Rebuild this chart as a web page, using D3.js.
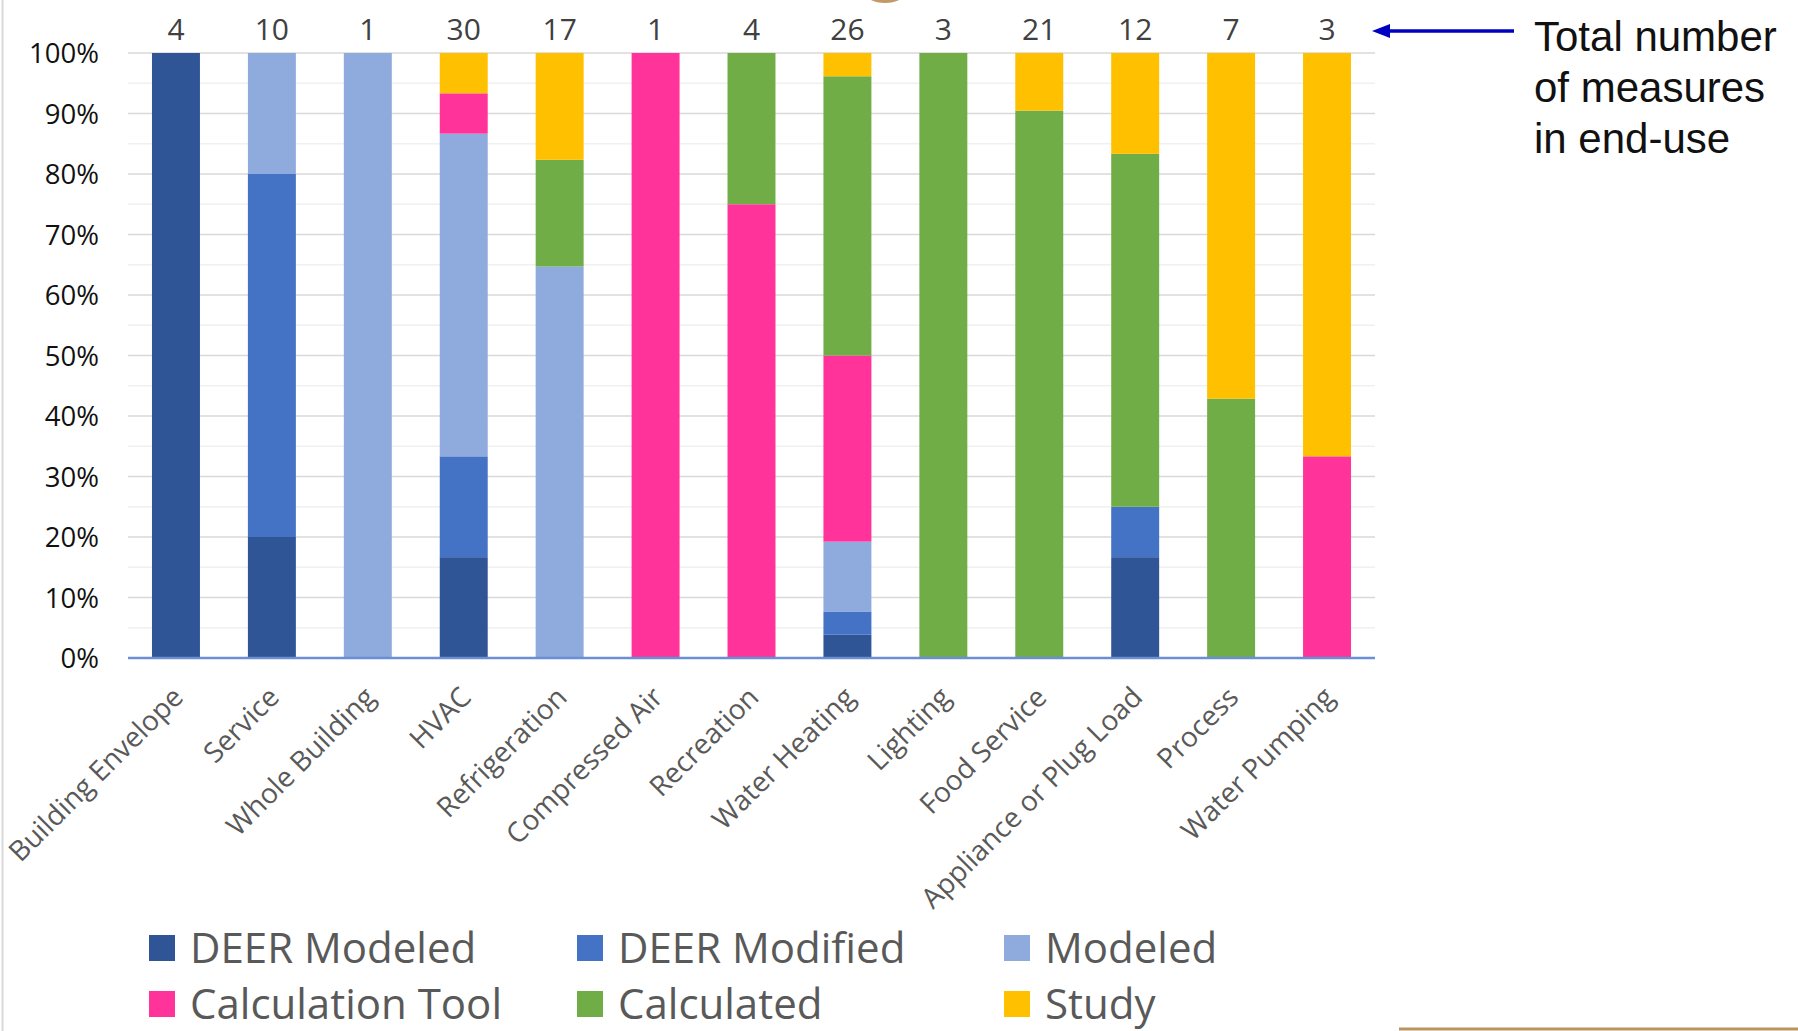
<!DOCTYPE html>
<html>
<head>
<meta charset="utf-8">
<script src="https://cdn.jsdelivr.net/npm/d3@7"></script>
<style>
  html, body { margin: 0; padding: 0; background: #fff; }
  svg { display: block; }
  text { font-family: "Open Sans", "Noto Sans", sans-serif; }
</style>
</head>
<body>
<div id="chart"></div>
<script>
// measures per end-use, by method
const categories = ["Building Envelope", "Service", "Whole Building", "HVAC", "Refrigeration",
  "Compressed Air", "Recreation", "Water Heating", "Lighting", "Food Service",
  "Appliance or Plug Load", "Process", "Water Pumping"];
const totals = [4, 10, 1, 30, 17, 1, 4, 26, 3, 21, 12, 7, 3];

const seriesNames = ["DEER Modeled", "DEER Modified", "Modeled", "Calculation Tool", "Calculated", "Study"];
const deerModeled  = [4, 2, 0, 5, 0, 0, 0, 1, 0, 0, 2, 0, 0];
const deerModified = [0, 6, 0, 5, 0, 0, 0, 1, 0, 0, 1, 0, 0];
const modeled      = [0, 2, 1, 16, 11, 0, 0, 3, 0, 0, 0, 0, 0];
const calcTool     = [0, 0, 0, 2, 0, 1, 3, 8, 0, 0, 0, 0, 1];
const calculated   = [0, 0, 0, 0, 3, 0, 1, 12, 3, 19, 7, 3, 0];
const study        = [0, 0, 0, 2, 3, 0, 0, 1, 0, 2, 2, 4, 2];

const yTicks = [0, 0.1, 0.2, 0.3, 0.4, 0.5, 0.6, 0.7, 0.8, 0.9, 1];

const colors = ["#2F5597", "#4472C4", "#8FAADC", "#FF3399", "#70AD47", "#FFC000"];

const W = 1798, H = 1031;
const plot = { left: 128, right: 1375, top: 53, bottom: 658 };

const svg = d3.select("#chart").append("svg")
  .attr("width", W).attr("height", H);

// table for the stack
const allSeries = [deerModeled, deerModified, modeled, calcTool, calculated, study];
const rows = categories.map((c, i) => {
  const r = { category: c };
  seriesNames.forEach((s, j) => { r[s] = allSeries[j][i]; });
  return r;
});
const stacked = d3.stack().keys(seriesNames).offset(d3.stackOffsetExpand)(rows);

const x = d3.scaleBand().domain(categories)
  .range([plot.left, plot.right]).paddingInner(0.5).paddingOuter(0.25);
const y = d3.scaleLinear().domain([0, 1]).range([plot.bottom, plot.top]);
const color = d3.scaleOrdinal().domain(seriesNames).range(colors);

// frame bits from the slide
svg.append("line").attr("x1", 2.5).attr("x2", 2.5).attr("y1", 0).attr("y2", H)
  .attr("stroke", "#d9d9d9").attr("stroke-width", 2);
svg.append("line").attr("x1", 1399).attr("x2", W).attr("y1", 1029).attr("y2", 1029)
  .attr("stroke", "#b8955e").attr("stroke-width", 3);
svg.append("ellipse").attr("cx", 885).attr("cy", -7).attr("rx", 20).attr("ry", 10)
  .attr("fill", "#c39a66");

// minor gridlines
svg.append("g").selectAll("line")
  .data(d3.range(0.05, 1, 0.1))
  .enter().append("line")
  .attr("x1", plot.left).attr("x2", plot.right)
  .attr("y1", d => y(d)).attr("y2", d => y(d))
  .attr("stroke", "#f0f0f0").attr("stroke-width", 1.5);

// major gridlines
svg.append("g").selectAll("line")
  .data(yTicks.slice(1))
  .enter().append("line")
  .attr("x1", plot.left).attr("x2", plot.right)
  .attr("y1", d => y(d)).attr("y2", d => y(d))
  .attr("stroke", "#d9d9d9").attr("stroke-width", 1.5);

// y axis labels
const yAxis = svg.append("g")
  .attr("transform", `translate(${plot.left - 29},0)`)
  .call(d3.axisLeft(y).tickValues(yTicks).tickFormat(d3.format(".0%")).tickSize(0).tickPadding(0));
yAxis.select(".domain").remove();
yAxis.selectAll("text")
  .style("font-size", "27.5px")
  .style("font-family", "'Open Sans', sans-serif")
  .attr("fill", "#111")
  .attr("dy", "0.36em");

// bars
svg.append("g").selectAll("g")
  .data(stacked)
  .enter().append("g")
  .attr("fill", d => color(d.key))
  .selectAll("rect")
  .data(d => d)
  .enter().append("rect")
  .attr("x", d => x(d.data.category))
  .attr("width", x.bandwidth())
  .attr("y", d => y(d[1]))
  .attr("height", d => y(d[0]) - y(d[1]));

// baseline
svg.append("line")
  .attr("x1", plot.left).attr("x2", plot.right)
  .attr("y1", y(0)).attr("y2", y(0))
  .attr("stroke", "#6a8fd4").attr("stroke-width", 2.5);

// totals over bars
svg.append("g").selectAll("text")
  .data(categories)
  .enter().append("text")
  .attr("x", d => x(d) + x.bandwidth() / 2)
  .attr("y", 40)
  .attr("text-anchor", "middle")
  .style("font-size", "30px")
  .attr("fill", "#404040")
  .text((d, i) => totals[i]);

// category labels, rotated
svg.append("g").selectAll("text")
  .data(categories)
  .enter().append("text")
  .attr("transform", d => `translate(${x(d) + x.bandwidth() / 2 + 9},${plot.bottom + 41}) rotate(-45)`)
  .attr("text-anchor", "end")
  .style("font-size", "28px")
  .attr("fill", "#595959")
  .text(d => d);

// annotation
svg.append("line")
  .attr("x1", 1514).attr("x2", 1386)
  .attr("y1", 31).attr("y2", 31)
  .attr("stroke", "#0000c0").attr("stroke-width", 3.5);
svg.append("path")
  .attr("d", "M1372,31 L1390,24 L1390,38 Z")
  .attr("fill", "#0000c0");

const note = svg.append("text")
  .attr("x", 1534).attr("y", 51)
  .style("font-family", "'Liberation Sans', Arial, sans-serif")
  .style("font-size", "42px")
  .attr("fill", "#111");
["Total number", "of measures", "in end-use"].forEach((t, i) => {
  note.append("tspan").attr("x", 1534).attr("dy", i === 0 ? 0 : 51).text(t);
});

// legend
const legendCols = [149, 577, 1004];
const legendRows = [948, 1004];
const legend = svg.append("g").selectAll("g")
  .data(seriesNames)
  .enter().append("g")
  .attr("transform", (d, i) => `translate(${legendCols[i % 3]},${legendRows[Math.floor(i / 3)]})`);
legend.append("rect")
  .attr("x", 0).attr("y", -13)
  .attr("width", 26).attr("height", 26)
  .attr("fill", d => color(d));
legend.append("text")
  .attr("x", 41).attr("y", 0)
  .attr("dy", "0.35em")
  .style("font-size", "42px")
  .attr("fill", "#595959")
  .text(d => d);
</script>
</body>
</html>
